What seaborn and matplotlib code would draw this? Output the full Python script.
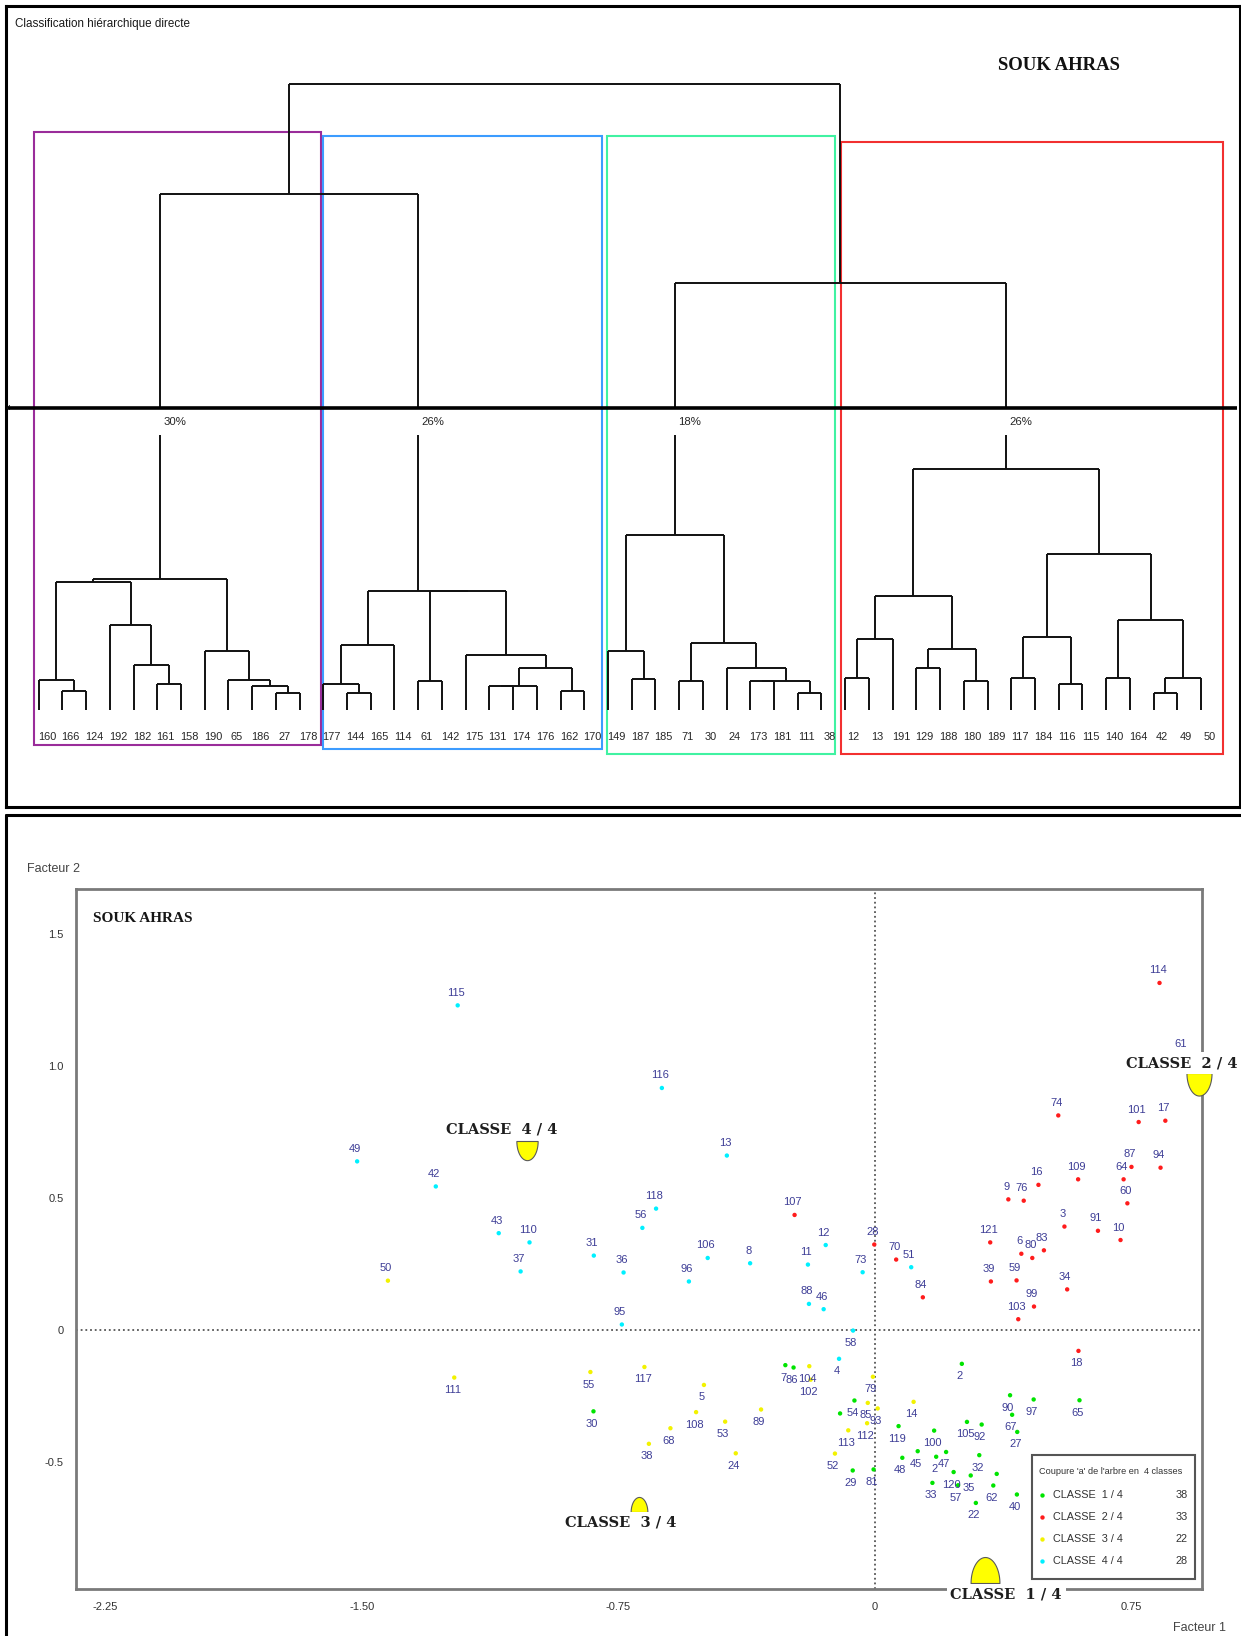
import numpy as np
import pandas as pd
import matplotlib
matplotlib.use("Agg")
import matplotlib.pyplot as plt
from matplotlib import font_manager
from matplotlib.patches import Rectangle
from matplotlib.lines import Line2D
from matplotlib.path import Path
from matplotlib.collections import LineCollection
import seaborn as sns

# ------------------------------------------------------------------
# Hierarchical classification (dendrogram)
# ------------------------------------------------------------------
leaf_order = ["160", "166", "124", "192", "182", "161", "158", "190", "65", "186", "27", "178",
              "177", "144", "165", "114", "61", "142", "175", "131", "174", "176", "162", "170",
              "149", "187", "185", "71", "30", "24", "173", "181", "111", "38",
              "12", "13", "191", "129", "188", "180", "189", "117", "184", "116", "115",
              "140", "164", "42", "49", "50"]

# (node, left child, right child, aggregation level)
merges = [
    ("P1", "166", "124", 17.5), ("P2", "160", "P1", 28.5),
    ("P3", "161", "158", 24.5), ("P4", "182", "P3", 42.4),
    ("P5", "192", "P4", 81.6), ("P6", "P2", "P5", 122.0),
    ("P7", "27", "178", 16.0), ("P8", "186", "P7", 22.3),
    ("P9", "65", "P8", 28.0), ("P10", "190", "P9", 56.2),
    ("P11", "P6", "P10", 125.6),
    ("B1", "144", "165", 16.0), ("B2", "177", "B1", 24.5),
    ("B3", "B2", "114", 62.3), ("B4", "61", "142", 27.7),
    ("B5", "131", "174", 22.3), ("B6", "B5", "176", 22.3),
    ("B7", "162", "170", 17.5), ("B8", "B6", "B7", 40.2),
    ("B9", "175", "B8", 52.0), ("B10", "B4", "B9", 114.1),
    ("B11", "B3", "B10", 114.1),
    ("G1", "187", "185", 29.4), ("G2", "149", "G1", 56.2),
    ("G3", "71", "30", 27.7), ("G4", "111", "38", 16.0),
    ("G5", "173", "181", 27.7), ("G6", "G5", "G4", 27.7),
    ("G7", "24", "G6", 40.2), ("G8", "G3", "G7", 64.0),
    ("G9", "G2", "G8", 167.7),
    ("R1", "12", "13", 30.3), ("R2", "R1", "191", 67.9),
    ("R3", "129", "188", 40.2), ("R4", "180", "189", 27.7),
    ("R5", "R3", "R4", 58.4), ("R6", "R2", "R5", 109.3),
    ("R7", "117", "184", 30.3), ("R8", "116", "115", 24.5),
    ("R9", "R7", "R8", 69.8), ("R10", "140", "164", 30.3),
    ("R11", "42", "49", 16.0), ("R12", "R11", "50", 30.3),
    ("R13", "R10", "R12", 86.4), ("R14", "R9", "R13", 149.5),
    ("R15", "R6", "R14", 230.9),
    ("U1", "P11", "B11", 494.0), ("U2", "G9", "R15", 409.0),
    ("U3", "U1", "U2", 600.0),
]
cut_level = 289.0
class_roots = ["P11", "B11", "G9", "R15"]
class_shares = ["30%", "26%", "18%", "26%"]
class_box_colors = ["#9a2c9a", "#3c9cff", "#40f2a2", "#f23030"]

# ------------------------------------------------------------------
# Factorial plane (Facteur 1 x Facteur 2)
# ------------------------------------------------------------------
point_ids = ["115", "116", "49", "42", "13", "118", "56", "43", "110", "37", "31", "36",
             "95", "106", "96", "8", "12", "11", "88", "46", "73", "51", "58", "4",
             "107", "28", "70", "84", "121", "39", "59", "6", "80", "83", "103", "99",
             "34", "9", "76", "16", "3", "109", "91", "10", "60", "64", "87", "94",
             "74", "101", "17", "114", "61", "18",
             "50", "111", "55", "117", "5", "108", "68", "38", "53", "24", "89", "104",
             "102", "79", "85", "93", "14", "113", "112", "52",
             "30", "7", "86", "2", "54", "", "29", "81", "119", "48", "45", "100",
             "2", "47", "120", "33", "57", "105", "92", "32", "35", "22", "", "62",
             "90", "97", "65", "67", "27", "40"]
point_f1 = [-1.220, -0.623, -1.514, -1.284, -0.433, -0.640, -0.680, -1.100, -1.010, -1.036,
            -0.822, -0.735, -0.740, -0.489, -0.544, -0.365, -0.144, -0.196, -0.193, -0.150,
            -0.036, 0.106, -0.064, -0.105,
            -0.235, -0.002, 0.062, 0.140, 0.337, 0.339, 0.414, 0.428, 0.460, 0.494, 0.419,
            0.465, 0.562, 0.390, 0.435, 0.478, 0.554, 0.594, 0.652, 0.718, 0.738, 0.727,
            0.750, 0.835, 0.536, 0.771, 0.849, 0.832, 0.900, 0.595,
            -1.424, -1.230, -0.832, -0.674, -0.500, -0.523, -0.598, -0.661, -0.438, -0.407,
            -0.333, -0.192, -0.188, -0.006, -0.021, 0.008, 0.113, -0.078, -0.023, -0.117,
            -0.823, -0.262, -0.238, 0.254, -0.060, -0.102, -0.065, -0.004, 0.069, 0.080,
            0.125, 0.173, 0.179, 0.208, 0.230, 0.168, 0.243, 0.269, 0.312, 0.305, 0.280,
            0.295, 0.356, 0.346, 0.395, 0.464, 0.598, 0.401, 0.416, 0.415]
point_f2 = [1.229, 0.916, 0.638, 0.543, 0.660, 0.459, 0.386, 0.366, 0.331, 0.221,
            0.281, 0.217, 0.020, 0.272, 0.183, 0.252, 0.321, 0.247, 0.098, 0.078,
            0.218, 0.237, -0.003, -0.110,
            0.435, 0.323, 0.266, 0.123, 0.331, 0.183, 0.187, 0.288, 0.272, 0.301, 0.040,
            0.088, 0.153, 0.494, 0.489, 0.549, 0.391, 0.570, 0.375, 0.340, 0.479, 0.570,
            0.617, 0.614, 0.812, 0.787, 0.792, 1.314, 1.037, -0.080,
            0.186, -0.181, -0.160, -0.141, -0.209, -0.312, -0.373, -0.432, -0.348, -0.468,
            -0.302, -0.138, -0.189, -0.178, -0.277, -0.298, -0.273, -0.381, -0.354, -0.469,
            -0.309, -0.134, -0.143, -0.129, -0.268, -0.317, -0.533, -0.529, -0.365, -0.485,
            -0.460, -0.382, -0.481, -0.463, -0.539, -0.580, -0.589, -0.349, -0.359, -0.475,
            -0.552, -0.656, -0.546, -0.590, -0.248, -0.264, -0.267, -0.322, -0.387, -0.624]
point_class = [4] * 24 + [2] * 30 + [3] * 20 + [1] * 30

class_counts = [38, 33, 22, 28]
centre_f1 = [0.323, 0.948, -0.691, -1.018]
centre_f2 = [-0.958, 0.973, -0.690, 0.717]

x_ticks = [-2.25, -1.50, -0.75, 0.0, 0.75]
x_tick_labels = ["-2.25", "-1.50", "-0.75", "0", "0.75"]
y_ticks = [-0.5, 0.0, 0.5, 1.0, 1.5]
y_tick_labels = ["-0.5", "0", "0.5", "1.0", "1.5"]

class_names = [f"CLASSE  {k} / 4" for k in range(1, 5)]
class_colors = ["#00e400", "#ff1c1c", "#f2f200", "#00f0ff"]
palette = dict(zip(class_names, class_colors))

# ------------------------------------------------------------------
sns.set_theme(style="white")
available = {f.name for f in font_manager.fontManager.ttflist}
NARROW = "Liberation Sans Narrow" if "Liberation Sans Narrow" in available else "Liberation Sans"
SERIF = "Liberation Serif" if "Liberation Serif" in available else "DejaVu Serif"
plt.rcParams["font.family"] = [NARROW, "DejaVu Sans"]
NARROW_FAM = [NARROW, "DejaVu Sans"]

W, H = 1189.0, 1568.0  # layout grid of the page


def fx(px):
    return px / W


def fy(py):
    return 1.0 - py / H


fig = plt.figure(figsize=(12.41, 16.36), dpi=100)

# ---------------- dendrogram panel ----------------
axd = fig.add_axes([fx(6), fy(773), fx(1188) - fx(6), (773 - 6) / H])
axd.set_xlim(-1.364, 50.64)
axd.set_ylim(-92.8, 674.2)
axd.set_xticks([])
axd.set_yticks([])
for sp in axd.spines.values():
    sp.set_color("black")
    sp.set_linewidth(2.2)

xpos = {lab: float(i) for i, lab in enumerate(leaf_order)}
ypos = {lab: 0.0 for lab in leaf_order}
children = {node: (a, b) for node, a, b, _ in merges}
gap_low = 263.0
segs = []
for node, a, b, h in merges:
    for c in (a, b):
        if c in class_roots:
            segs.append([(xpos[c], ypos[c]), (xpos[c], gap_low)])
            segs.append([(xpos[c], cut_level), (xpos[c], h)])
        else:
            segs.append([(xpos[c], ypos[c]), (xpos[c], h)])
    segs.append([(xpos[a], h), (xpos[b], h)])
    xpos[node] = (xpos[a] + xpos[b]) / 2.0
    ypos[node] = h
axd.add_collection(LineCollection(segs, colors="#111111", linewidths=1.4, zorder=3))

# cut of the tree into 4 classes
axd.plot([-1.28, 50.5], [cut_level, cut_level], color="black", lw=2.6, zorder=4,
         solid_capstyle="butt")
axd.text(-1.33, cut_level, "4", fontsize=5, ha="left", va="center", color="#222")

for lab in leaf_order:
    axd.text(xpos[lab] + 0.35, -26.5, lab, ha="center", va="center", fontsize=7.9,
             color="#262626", family=NARROW_FAM)

# class frames and shares
box_tops = [554, 550, 550, 544]
box_bottoms = [-34, -38, -42, -42]
box_pad_left = [0.18, 0.0, 0.02, 0.17]
box_pad_right = [0.92, 0.76, 0.57, 0.93]
for k, root in enumerate(class_roots):
    stack = [root]
    leaves = []
    while stack:
        n = stack.pop()
        if n in children:
            stack.extend(children[n])
        else:
            leaves.append(xpos[n])
    lo = min(leaves) - box_pad_left[k]
    hi = max(leaves) + box_pad_right[k]
    axd.add_patch(Rectangle((lo, box_bottoms[k]), hi - lo, box_tops[k] - box_bottoms[k],
                            fill=False, ec=class_box_colors[k], lw=1.5, zorder=2))
    axd.text(xpos[root] + 0.62, (gap_low + cut_level) / 2, class_shares[k],
             ha="center", va="center", fontsize=8.2, color="#262626", family=NARROW_FAM)

fig.text(fx(14), fy(23), "Classification hiérarchique directe", ha="left", va="center",
         fontsize=8.4, color="#1a1a1a", family=NARROW_FAM)
fig.text(fx(1015), fy(63), "SOUK AHRAS", ha="center", va="center", fontsize=13.5,
         fontweight="bold", family=SERIF, color="#111")

# ---------------- factorial plane panel ----------------
fig.add_artist(Line2D([fx(6), fx(6)], [fy(781), 0.0], color="black", lw=2.2))
fig.add_artist(Line2D([fx(6), 1.0], [fy(781), fy(781)], color="black", lw=2.2))

ax = fig.add_axes([fx(72.8), fy(1523.4), fx(1151.7) - fx(72.8), (1523.4 - 851.8) / H])
df = pd.DataFrame({"id": point_ids, "f1": point_f1, "f2": point_f2,
                   "classe": [class_names[c - 1] for c in point_class]})

ax.axhline(0, color="#555555", lw=1.3, ls=(0, (1, 1.6)), zorder=1)
ax.axvline(0, color="#555555", lw=1.3, ls=(0, (1, 1.6)), zorder=1)

sns.scatterplot(data=df, x="f1", y="f2", hue="classe", palette=palette, s=10,
                linewidth=0, legend=False, ax=ax, zorder=3)

for _, r in df.iterrows():
    if r["id"] == "":
        continue
    dy = 9.0 if r["f2"] >= 0 else -9.0
    ax.annotate(r["id"], (r["f1"], r["f2"]), xytext=(-1.4, dy), textcoords="offset points",
                ha="center", va="center", fontsize=8.0, color="#3d3d96", family=NARROW_FAM,
                zorder=4)

# class centres: half-oval symbol (size follows the class size), opening away
# from its caption
label_offsets = [(14.9, -8.3), (-12.9, 7.1), (-12.7, -7.9), (-18.4, 7.7)]
theta = np.linspace(0.0, np.pi, 41)


def half_oval(upwards):
    sign = 1.0 if upwards else -1.0
    verts = np.column_stack([np.cos(theta), sign * 1.8 * np.sin(theta)])
    verts = np.vstack([verts, verts[:1]])
    codes = [Path.MOVETO] + [Path.LINETO] * (len(verts) - 2) + [Path.CLOSEPOLY]
    return Path(verts, codes)


for k in range(4):
    size_pt = 1.8 * 0.76 * 0.72 * class_counts[k]
    ax.scatter([centre_f1[k]], [centre_f2[k]], s=size_pt ** 2,
               marker=half_oval(label_offsets[k][1] < 0), color="#ffff00",
               edgecolors="#5a5a5a", linewidths=0.8, zorder=5, clip_on=False)
    ax.annotate(class_names[k], (centre_f1[k], centre_f2[k]), xytext=label_offsets[k],
                textcoords="offset points", ha="center", va="center", fontsize=10.5,
                fontweight="bold", family="DejaVu Serif", color="#1e1e1e", zorder=6,
                annotation_clip=False,
                bbox=dict(boxstyle="square,pad=0.25", fc="white", ec="none"))

ax.set_xlim(-2.336, 0.9564)
ax.set_ylim(-0.9838, 1.6708)
ax.set_xticks(x_ticks)
ax.set_xticklabels(x_tick_labels)
ax.set_yticks(y_ticks)
ax.set_yticklabels(y_tick_labels)
ax.set_xlabel("")
ax.set_ylabel("")
ax.tick_params(axis="both", direction="inout", length=6, width=1.6, color="#555555",
               labelsize=8, labelcolor="#333333", pad=6)
for lab in ax.get_xticklabels() + ax.get_yticklabels():
    lab.set_family(NARROW_FAM)
for sp in ax.spines.values():
    sp.set_color("#7a7a7a")
    sp.set_linewidth(2.0)
    sp.set_zorder(2)

ax.text(0.015, 0.958, "SOUK AHRAS", transform=ax.transAxes, ha="left", va="center",
        fontsize=11, fontweight="bold", family=SERIF, color="#151515")

# legend box: cut of the tree into 4 classes
ax.add_patch(Rectangle((0.8493, 0.0152), 0.1445, 0.1773, transform=ax.transAxes,
                       fc="white", ec="#555555", lw=1.5, zorder=7))
ax.text(0.8548, 0.1679, "Coupure 'a' de l'arbre en  4 classes", transform=ax.transAxes,
        ha="left", va="center", fontsize=6.6, color="#333", family=NARROW_FAM, zorder=8)
row_y = [0.1345, 0.1030, 0.0723, 0.0402]
for k in range(4):
    ax.scatter([0.8582], [row_y[k]], transform=ax.transAxes, s=10, color=class_colors[k],
               linewidths=0, zorder=8)
    ax.text(0.8680, row_y[k], class_names[k], transform=ax.transAxes, ha="left",
            va="center", fontsize=7.8, color="#333", family=NARROW_FAM, zorder=8)
    ax.text(0.9874, row_y[k], str(class_counts[k]), transform=ax.transAxes, ha="right",
            va="center", fontsize=7.8, color="#333", family=NARROW_FAM, zorder=8)

fig.text(fx(26), fy(833), "Facteur 2", ha="left", va="center", fontsize=9,
         color="#444", family=NARROW_FAM)
fig.text(fx(1124), fy(1560), "Facteur 1", ha="left", va="center", fontsize=9,
         color="#444", family=NARROW_FAM)

fig.savefig("out.png", dpi=100, facecolor="white")
